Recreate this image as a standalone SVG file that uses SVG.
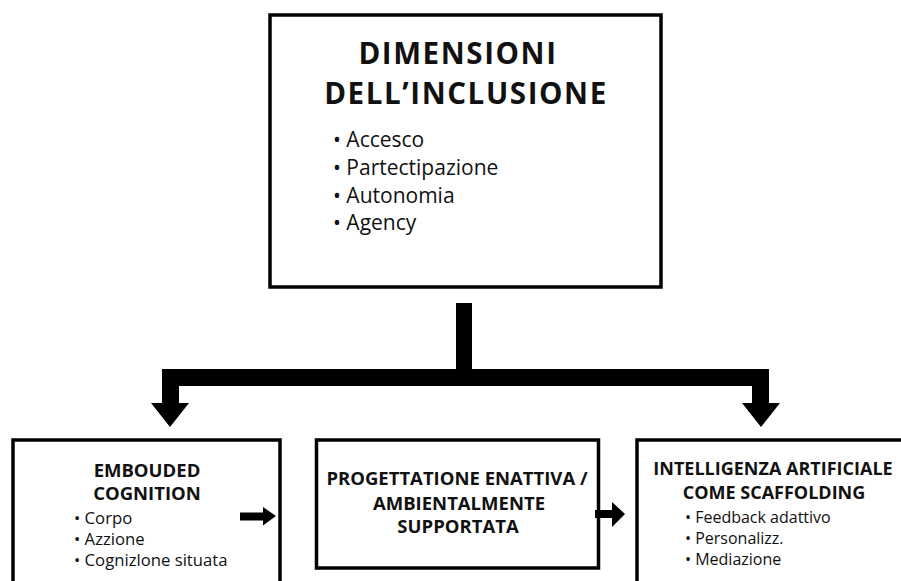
<svg xmlns="http://www.w3.org/2000/svg" width="901" height="581" viewBox="0 0 901 581">
<style>
.box{fill:#fff;stroke:#000;stroke-width:3.5}
.t{font-family:"Open Sans","Noto Sans",sans-serif;font-weight:700;fill:#111}
.b{font-family:"Open Sans","Noto Sans",sans-serif;font-weight:400;fill:#111}
.conn{fill:#000}
</style>
<rect width="901" height="581" fill="#fff"/>
<g id="node-dimensioni">
<rect class="box" x="270" y="15" width="391" height="272" stroke-width="4"/>
<text class="t" font-size="29.5" letter-spacing="1.6" text-anchor="middle"><tspan x="458" y="63.5">DIMENSIONI</tspan><tspan x="466" y="104">DELL’INCLUSIONE</tspan></text>
<text class="b" font-size="21"><tspan x="333" y="147">• Accesco</tspan><tspan x="333" y="175">• Partectipazione</tspan><tspan x="333" y="203">• Autonomia</tspan><tspan x="333" y="230">• Agency</tspan></text>
</g>
<g id="node-embouded">
<rect class="box" x="13" y="440" width="267" height="170"/>
<text class="t" font-size="18.5" text-anchor="middle"><tspan x="147" y="477">EMBOUDED</tspan><tspan x="147" y="500">COGNITION</tspan></text>
<text class="b" font-size="16.7"><tspan x="74" y="524">• Corpo</tspan><tspan x="74" y="545">• Azzione</tspan><tspan x="74" y="566">• Cognizlone situata</tspan></text>
</g>
<g id="node-progettazione">
<rect class="box" x="316.5" y="440" width="282" height="128"/>
<text class="t" font-size="18.5" text-anchor="middle"><tspan x="457" y="485">PROGETTATIONE ENATTIVA /</tspan><tspan x="459" y="510">AMBIENTALMENTE</tspan><tspan x="458" y="533">SUPPORTATA</tspan></text>
</g>
<g id="node-ia">
<rect class="box" x="637" y="440" width="290" height="170"/>
<text class="t" font-size="18" text-anchor="middle"><tspan x="773" y="475">INTELLIGENZA ARTIFICIALE</tspan><tspan x="774" y="499">COME SCAFFOLDING</tspan></text>
<text class="b" font-size="16"><tspan x="685" y="523">• Feedback adattivo</tspan><tspan x="685" y="544">• Personalizz.</tspan><tspan x="685" y="565">• Mediazione</tspan></text>
</g>
<g id="connectors">
<path class="conn" d="M456 303 H472 V369 H769 V403 H780 L761 427 L742 403 H752 V386 H179 V403 H189 L170 427 L151 403 H162 V369 H456 Z"/>
<path class="conn" d="M240 512.5 H263 V507 L276 516 L263 525.5 V520.5 H240 Z"/>
<path class="conn" d="M595 510 H612 V502 L625 514 L612 527 V518 H595 Z"/>
</g>
</svg>
